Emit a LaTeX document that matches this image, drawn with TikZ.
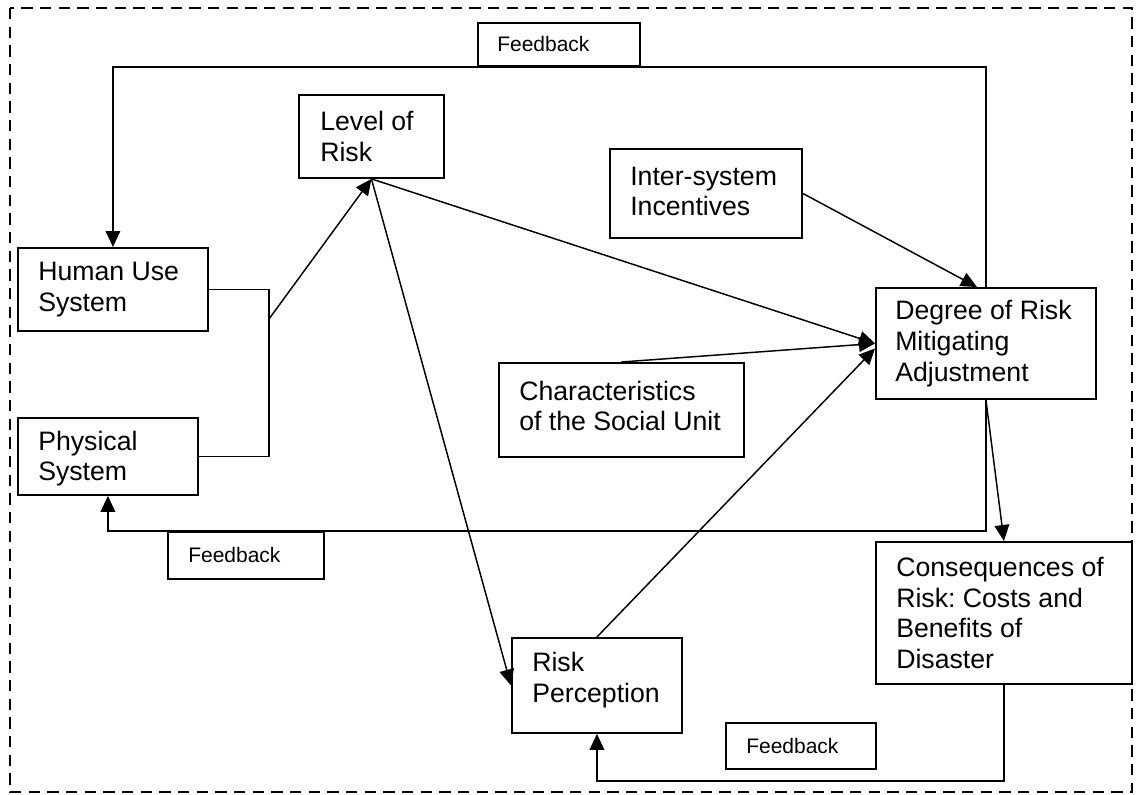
\documentclass[tikz,border=0pt]{standalone}
\usepackage{fontspec}
\setmainfont{Liberation Sans}
\usetikzlibrary{arrows.meta}
\frenchspacing
\begin{document}
\begin{tikzpicture}[x=0.75pt,y=-0.75pt,
  box/.style={draw, line width=1.4pt, rectangle, inner sep=0pt, anchor=north west},
  txt/.style={inner sep=0pt, anchor=west, align=left, font=\fontsize{20}{23}\selectfont},
  fbtxt/.style={inner sep=0pt, anchor=west, font=\fontsize{15.75}{18}\selectfont},
  conn/.style={line width=1.1pt},
  arr/.style={line width=1.1pt, -{Triangle[length=12pt,width=11pt]}},
  frame/.style={line width=2pt, dash pattern=on 8.5pt off 5.5pt}]
\useasboundingbox (0,0) rectangle (1138,794);
\draw[frame] (10,8) rectangle (1132,792);

% boxes
\node[box, minimum width=142.5pt, minimum height=62.25pt] (hum) at (17,247) {};
\node[box, minimum width=135pt, minimum height=57.75pt] (phys) at (17,417) {};
\node[box, minimum width=108.75pt, minimum height=62.25pt] (level) at (298,94) {};
\node[box, minimum width=144pt, minimum height=66.75pt] (inter) at (609,148) {};
\node[box, minimum width=165pt, minimum height=83.25pt] (deg) at (875,287) {};
\node[box, minimum width=183.75pt, minimum height=70.5pt] (char) at (498,362) {};
\node[box, minimum width=127.5pt, minimum height=71.25pt] (rp) at (511,637) {};
\node[box, minimum width=192pt, minimum height=106.5pt] (cons) at (875,541) {};
\node[box, minimum width=121.5pt, minimum height=32.25pt] (fb1) at (477,22) {};
\node[box, minimum width=117pt, minimum height=35.25pt] (fb2) at (167,531) {};
\node[box, minimum width=112.5pt, minimum height=34.5pt] (fb3) at (725,722) {};

% texts
\node[txt] (humt) at ([xshift=15.75pt]hum.west) {Human Use\\System};
\node[txt] (physt) at ([xshift=15.75pt,yshift=-1.5pt]phys.west) {Physical\\System};
\node[txt] (levelt) at ([xshift=16.5pt]level.west) {Level of\\Risk};
\node[txt] (intert) at ([xshift=15.75pt,yshift=1.5pt]inter.west) {Inter-system\\Incentives};
\node[txt] (degt) at ([xshift=15pt]deg.west) {Degree of Risk\\Mitigating\\Adjustment};
\node[txt] (chart) at ([xshift=15.75pt,yshift=3pt]char.west) {Characteristics\\of the Social Unit};
\node[txt] (rpt) at ([xshift=15.75pt,yshift=4pt]rp.west) {Risk\\Perception};
\node[txt] (const) at ([xshift=15.75pt]cons.west) {Consequences of\\Risk: Costs and\\Benefits of\\Disaster};
\node[fbtxt] (fb1t) at ([xshift=15pt]fb1.west) {Feedback};
\node[fbtxt] (fb2t) at ([xshift=15.75pt]fb2.west) {Feedback};
\node[fbtxt] (fb3t) at ([xshift=15.75pt]fb3.west) {Feedback};

% connectors
\coordinate (jx) at (269,319);
\draw[conn] (hum.east) -| (jx) |- (phys.east);
\draw[arr] (jx) -- (level.south);
\draw[arr] (level.south) -- (deg.west);
\draw[arr] (level.south) -- (rp.west);
\draw[arr] (inter.east) -- ([xshift=-6.75pt]deg.north);
\draw[arr] (char.north) -- (deg.west);
\draw[arr] (rp.north) -- ([yshift=-3.75pt]deg.west);
\draw[arr] (deg.south) -- (cons.north);
\draw[arr] (deg.north) |- (fb1.south) -| (hum.north);
\draw[arr] (deg.south) |- (fb2.north) -| (phys.south);
\draw[arr] (cons.south) -- ++(0,96) -| (rp.south);
\end{tikzpicture}
\end{document}
